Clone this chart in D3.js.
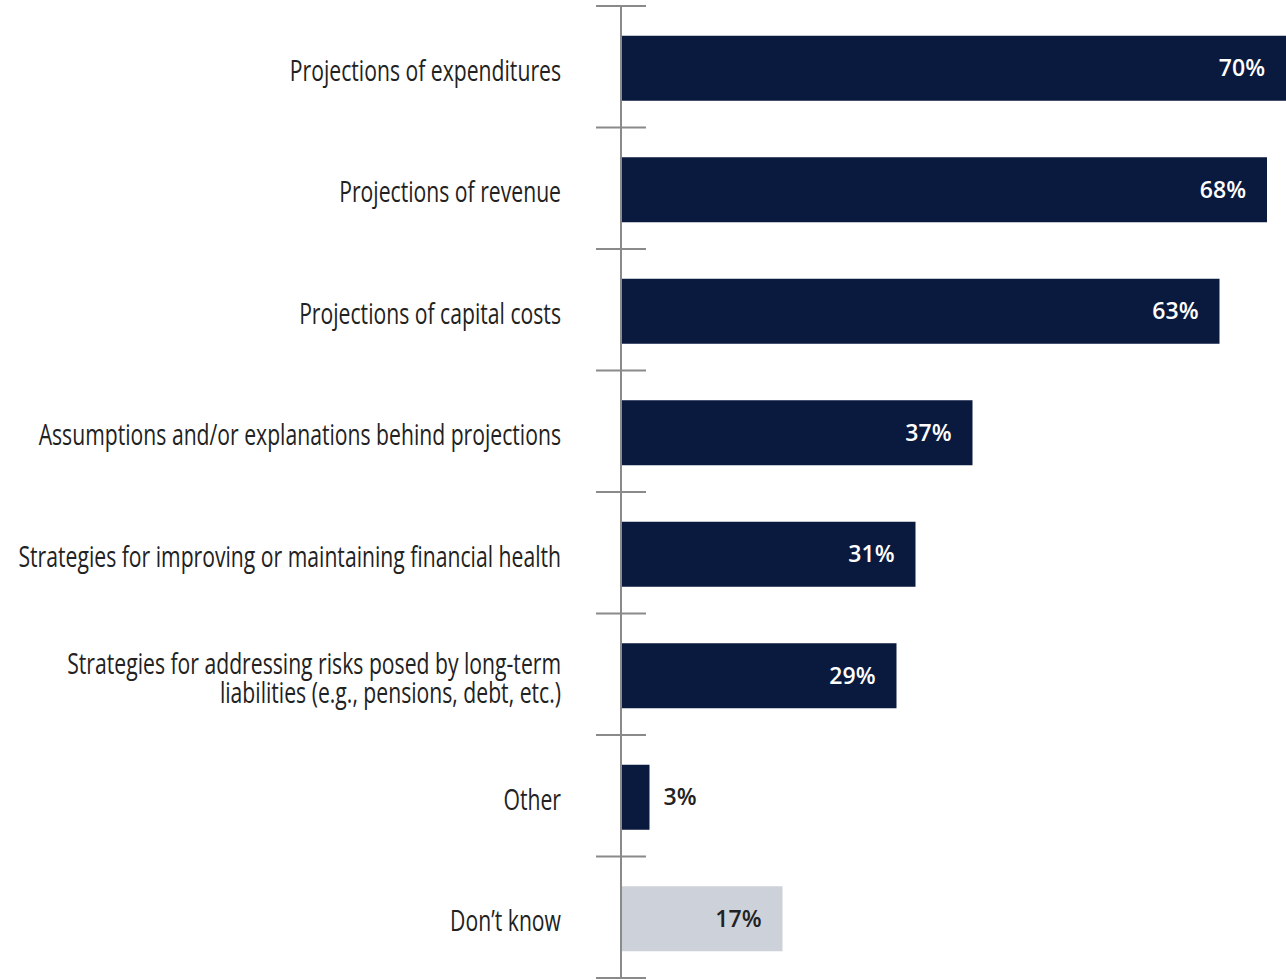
<!DOCTYPE html>
<html>
<head>
<meta charset="utf-8">
<script src="https://cdn.jsdelivr.net/npm/d3@7"></script>
<style>
  body { margin: 0; background: #fff; }
  svg { display: block; }
</style>
</head>
<body>
<div id="chart"></div>
<script>
// Chart data
const categories = [
  ['Projections of expenditures'],
  ['Projections of revenue'],
  ['Projections of capital costs'],
  ['Assumptions and/or explanations behind projections'],
  ['Strategies for improving or maintaining financial health'],
  ['Strategies for addressing risks posed by long-term', 'liabilities (e.g., pensions, debt, etc.)'],
  ['Other'],
  ['Don\u2019t know']
];
const values = [70, 68, 63, 37, 31, 29, 3, 17];
const highlight = [false, false, false, false, false, false, false, true];

const width = 1286, height = 980;
const axisX = 621;
const labelFont = '"Open Sans", "Noto Sans", sans-serif';
const squeeze = 0.73; // the reference uses a condensed face

const svg = d3.select('#chart')
  .append('svg')
  .attr('width', width)
  .attr('height', height);

const keys = categories.map((c, i) => i);

const y = d3.scaleBand()
  .domain(keys)
  .range([6, 978])
  .paddingInner(0.465)
  .paddingOuter(0.2325);

const x = d3.scaleLinear()
  .domain([0, 70])
  .range([axisX, 1286]);

// Bars
svg.selectAll('rect.bar')
  .data(values)
  .enter()
  .append('rect')
  .attr('class', 'bar')
  .attr('x', x(0))
  .attr('y', (d, i) => y(i) + 1.5)
  .attr('width', d => x(d) - x(0))
  .attr('height', y.bandwidth())
  .attr('fill', (d, i) => highlight[i] ? '#cdd1da' : '#0a1a3e');

// Axis line + ticks between bands
const step = y.step();
const tickYs = d3.range(keys.length + 1).map(i => 6 + i * step);

svg.append('line')
  .attr('x1', axisX).attr('x2', axisX)
  .attr('y1', tickYs[0]).attr('y2', tickYs[tickYs.length - 1])
  .attr('stroke', '#8a8a8a')
  .attr('stroke-width', 2);

svg.selectAll('line.tick')
  .data(tickYs)
  .enter()
  .append('line')
  .attr('class', 'tick')
  .attr('x1', axisX - 25).attr('x2', axisX + 25)
  .attr('y1', d => d).attr('y2', d => d)
  .attr('stroke', '#8a8a8a')
  .attr('stroke-width', 2);

// Category labels
const labels = svg.selectAll('text.cat')
  .data(categories)
  .enter()
  .append('text')
  .attr('class', 'cat')
  .attr('text-anchor', 'end')
  .attr('transform', (d, i) => `translate(561,${y(i) + y.bandwidth() / 2 + 4}) scale(${squeeze},1)`)
  .style('font-family', labelFont)
  .style('font-size', '29px')
  .style('font-weight', 500)
  .style('fill', '#222');

labels.each(function(lines) {
  const t = d3.select(this);
  const lh = 29;
  const start = -(lines.length - 1) * lh / 2;
  lines.forEach((ln, j) => {
    t.append('tspan')
      .attr('x', 0)
      .attr('y', start + j * lh)
      .attr('dy', '0.35em')
      .text(ln);
  });
});

// Value labels
svg.selectAll('text.val')
  .data(values)
  .enter()
  .append('text')
  .attr('class', 'val')
  .attr('x', d => d < 10 ? x(d) + 14 : x(d) - 21)
  .attr('y', (d, i) => y(i) + y.bandwidth() / 2 + 1.5)
  .attr('dy', '0.35em')
  .attr('text-anchor', d => d < 10 ? 'start' : 'end')
  .style('font-family', '"Open Sans", "Noto Sans", sans-serif')
  .style('font-weight', 600)
  .style('font-size', '23px')
  .style('fill', (d, i) => (d < 10 || highlight[i]) ? '#222' : '#fff')
  .text(d => d + '%');
</script>
</body>
</html>
